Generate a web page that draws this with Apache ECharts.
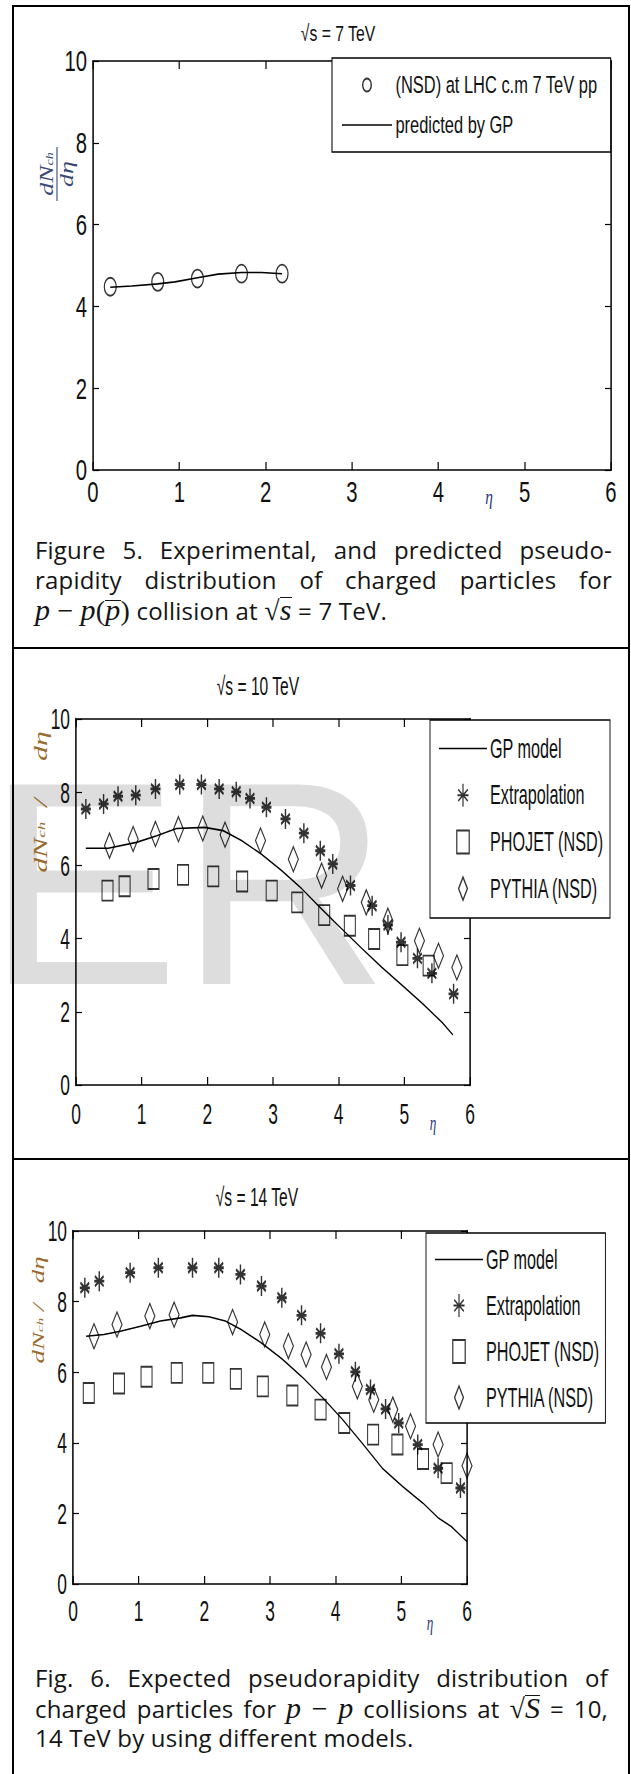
<!DOCTYPE html>
<html>
<head>
<meta charset="utf-8">
<script src="https://cdn.jsdelivr.net/npm/echarts@6/dist/echarts.min.js"></script>
<style>
html,body{margin:0;padding:0;background:#fff;}
#wrap{position:relative;width:631px;height:1774px;overflow:hidden;background:#fff;}
.panel{position:absolute;left:0;transform-origin:0 0;}
.fr{position:absolute;background:#000;}
.wm{position:absolute;font-family:'Liberation Sans',Arial,sans-serif;font-size:290px;line-height:290px;color:#dddddd;white-space:nowrap;}
.cap{position:absolute;font-family:'Open Sans',sans-serif;font-size:24px;line-height:30px;color:#151515;letter-spacing:0.2px;}
.cap div{height:30px;line-height:30px;white-space:nowrap;}
.cap .j{text-align:justify;text-align-last:justify;}
.m{font-family:'Liberation Serif','Times New Roman',serif;font-style:italic;font-size:30px;line-height:30px;}
.mr{font-family:'Liberation Serif','Times New Roman',serif;font-size:28px;line-height:30px;}
.ovp{display:inline-block;border-top:1.5px solid #151515;line-height:18px;}
.ovs{display:inline-block;border-top:1.5px solid #151515;line-height:24px;}
</style>
</head>
<body>
<div id="wrap">
  <div class="wm" style="left:-14px;top:738px;">ER</div>
  <div id="p1" class="panel"></div>
  <div id="p2" class="panel"></div>
  <div id="p3" class="panel"></div>

  <div class="fr" style="left:12px;top:5px;width:618px;height:2px;"></div>
  <div class="fr" style="left:12px;top:5px;width:2px;height:1769px;"></div>
  <div class="fr" style="left:628px;top:5px;width:2px;height:1769px;"></div>
  <div class="fr" style="left:12px;top:647px;width:618px;height:2px;"></div>
  <div class="fr" style="left:12px;top:1158px;width:618px;height:2px;"></div>

  <div class="cap" style="left:35px;top:535px;width:577px;">
    <div class="j">Figure 5. Experimental, and predicted pseudo-</div>
    <div class="j">rapidity distribution of charged particles for</div>
    <div><span class="m">p</span><span class="mr"> − </span><span class="m">p</span><span class="mr">(</span><span class="m ovp">p</span><span class="mr">)</span> collision at <span class="mr">√</span><span class="m ovs">s</span> = 7 TeV.</div>
  </div>

  <div class="cap" style="left:35px;top:1663px;width:573px;">
    <div class="j">Fig. 6. Expected pseudorapidity distribution of</div>
    <div class="j">charged particles for <span class="m">p</span><span class="mr"> − </span><span class="m">p</span> collisions at <span class="mr">√</span><span class="m ovs">S</span> = 10,</div>
    <div>14 TeV by using different models.</div>
  </div>
</div>

<script>
// ---------- data ----------
// Panel 1 : sqrt(s) = 7 TeV
const nsd7X = [0.20, 0.75, 1.21, 1.72, 2.19];
const nsd7Y = [4.48, 4.60, 4.68, 4.80, 4.80];
const gp7X  = [0.20, 0.45, 0.75, 0.95, 1.21, 1.45, 1.72, 1.95, 2.19];
const gp7Y  = [4.47, 4.50, 4.55, 4.60, 4.70, 4.79, 4.83, 4.83, 4.80];

// Panel 2 : sqrt(s) = 10 TeV
const ext10X = [0.15, 0.42, 0.64, 0.91, 1.21, 1.58, 1.91, 2.18, 2.44, 2.65, 2.90, 3.19, 3.47, 3.72, 3.91, 4.18, 4.51, 4.75, 4.95, 5.20, 5.42, 5.75];
const ext10Y = [7.54, 7.68, 7.89, 7.92, 8.09, 8.21, 8.21, 8.09, 8.01, 7.83, 7.59, 7.27, 6.88, 6.40, 6.04, 5.45, 4.90, 4.37, 3.90, 3.46, 3.05, 2.49];
const pyt10X = [0.51, 0.87, 1.21, 1.56, 1.93, 2.27, 2.81, 3.31, 3.74, 4.06, 4.42, 4.75, 5.23, 5.52, 5.80];
const pyt10Y = [6.54, 6.72, 6.86, 6.99, 7.01, 6.84, 6.68, 6.17, 5.72, 5.36, 4.99, 4.49, 3.94, 3.53, 3.21];
const pho10X = [0.48, 0.74, 1.18, 1.63, 2.09, 2.53, 2.98, 3.37, 3.78, 4.17, 4.54, 4.97, 5.37];
const pho10Y = [5.31, 5.43, 5.63, 5.74, 5.70, 5.56, 5.31, 4.99, 4.64, 4.35, 3.99, 3.55, 3.26];
const gp10X  = [0.15, 0.49, 0.92, 1.23, 1.53, 1.96, 2.24, 2.52, 2.82, 3.13, 3.44, 3.74, 4.05, 4.36, 4.66, 4.97, 5.28, 5.58, 5.74];
const gp10Y  = [6.47, 6.47, 6.63, 6.81, 7.01, 7.04, 6.95, 6.68, 6.31, 5.86, 5.36, 4.81, 4.26, 3.72, 3.21, 2.72, 2.22, 1.70, 1.37];

// Panel 3 : sqrt(s) = 14 TeV
const ext14X = [0.18, 0.40, 0.87, 1.30, 1.82, 2.22, 2.55, 2.87, 3.18, 3.48, 3.77, 4.05, 4.30, 4.53, 4.76, 4.96, 5.25, 5.56, 5.90];
const ext14Y = [8.39, 8.58, 8.82, 8.96, 8.96, 8.96, 8.77, 8.44, 8.11, 7.61, 7.10, 6.52, 6.01, 5.51, 4.96, 4.56, 3.95, 3.28, 2.72];
const pyt14X = [0.32, 0.67, 1.17, 1.54, 2.43, 2.92, 3.28, 3.55, 3.86, 4.33, 4.58, 4.87, 5.14, 5.56, 6.00];
const pyt14Y = [7.02, 7.35, 7.59, 7.63, 7.42, 7.07, 6.74, 6.50, 6.15, 5.60, 5.22, 4.94, 4.47, 3.95, 3.35];
const pho14X = [0.24, 0.70, 1.12, 1.58, 2.06, 2.48, 2.89, 3.34, 3.77, 4.13, 4.57, 4.94, 5.33, 5.69];
const pho14Y = [5.41, 5.68, 5.87, 5.98, 5.98, 5.81, 5.60, 5.34, 4.94, 4.56, 4.23, 3.95, 3.54, 3.14];
const gp14X  = [0.20, 0.47, 0.72, 1.03, 1.33, 1.64, 1.82, 2.07, 2.32, 2.56, 2.87, 3.18, 3.48, 3.79, 4.10, 4.40, 4.71, 5.02, 5.33, 5.57, 5.76, 6.00];
const gp14Y  = [7.02, 7.07, 7.16, 7.30, 7.45, 7.54, 7.61, 7.57, 7.45, 7.21, 6.83, 6.38, 5.88, 5.30, 4.67, 4.00, 3.28, 2.76, 2.29, 1.86, 1.63, 1.20];

// axis ranges
const X_MIN = 0, X_MAX = 6, X_STEP = 1;
const Y_MIN = 0, Y_MAX = 10, Y_STEP = 2;

// labels
const titles = ['√s = 7 TeV', '√s = 10 TeV', '√s = 14 TeV'];
const legend1 = ['(NSD) at LHC c.m 7 TeV pp', 'predicted by GP'];
const legend2 = ['GP model', 'Extrapolation', 'PHOJET (NSD)', 'PYTHIA (NSD)'];

// ---------- helpers ----------
const zip = (xs, ys) => xs.map((x, i) => [x, ys[i]]);
const SANS = "'Liberation Sans',Arial,sans-serif";
const SERIF = "'Liberation Serif','Times New Roman',serif";
const INK = '#111';
const YLAB = '#9a6b2e';
const YLAB1 = '#3a4a78';
const ETA = '#2a3580';

const SYM_ELLIPSE = 'path://M0,9A8.5,9,0,1,1,17,9A8.5,9,0,1,1,0,9Z';
const SYM_STAR = 'path://M8,0L8,20M1,5L15,15M1,15L15,5M0,10L16,10';
const SYM_RECT = 'path://M0,0L18,0L18,20L0,20Z';
const SYM_DIAM = 'path://M8,0L16,12.5L8,25L0,12.5Z';
const linePath = w => 'path://M0,0L' + w + ',0L' + w + ',1.6L0,1.6Z';

function txt(x, y, text, extra, rot) {
  return { type: 'text', x: x, y: y, rotation: rot || 0, silent: true,
    style: Object.assign({ text: text, fill: INK, align: 'center', verticalAlign: 'middle',
      textAlign: 'center', textVerticalAlign: 'middle' }, extra) };
}

function axes(k, xMargin) {
  const xLine = { show: true, onZero: false, lineStyle: { color: '#000', width: 1.5 } };
  const yLine = { show: true, onZero: false, lineStyle: { color: '#000', width: 1.5 / k } };
  const xTick = { show: true, inside: true, length: 8, lineStyle: { color: '#000', width: 1.2 / k } };
  const yTick = { show: true, inside: true, length: 6 / k, lineStyle: { color: '#000', width: 1.2 } };
  const lab = { show: true, color: INK, fontFamily: SANS, fontSize: 29, showMinLabel: true, showMaxLabel: true, hideOverlap: false };
  return {
    xAxis: [
      { type: 'value', position: 'bottom', min: X_MIN, max: X_MAX, interval: X_STEP, axisLine: xLine, axisTick: xTick,
        splitLine: { show: false }, axisLabel: Object.assign({ margin: xMargin }, lab) },
      { type: 'value', position: 'top', min: X_MIN, max: X_MAX, interval: X_STEP, axisLine: xLine, axisTick: xTick,
        splitLine: { show: false }, axisLabel: { show: false } }
    ],
    yAxis: [
      { type: 'value', position: 'left', min: Y_MIN, max: Y_MAX, interval: Y_STEP, axisLine: yLine, axisTick: yTick,
        splitLine: { show: false }, axisLabel: Object.assign({ margin: 6 / k }, lab) },
      { type: 'value', position: 'right', min: Y_MIN, max: Y_MAX, interval: Y_STEP, axisLine: yLine, axisTick: yTick,
        splitLine: { show: false }, axisLabel: { show: false } }
    ]
  };
}

const hollow = { color: 'rgba(0,0,0,0)', borderColor: '#000', borderWidth: 1.8 };
const starStyle = { color: 'rgba(0,0,0,0)', borderColor: '#000', borderWidth: 2.6 };
const common = { animation: false, silent: true, emphasis: { disabled: true }, xAxisIndex: 0, yAxisIndex: 0 };

function makePanel(id, k, top, height, cfg) {
  const W = 631 / k;
  const dom = document.getElementById(id);
  dom.style.top = top + 'px';
  dom.style.width = W + 'px';
  dom.style.height = height + 'px';
  dom.style.transform = 'scaleX(' + k + ')';
  const chart = echarts.init(dom, null, { renderer: 'svg', width: W, height: height });
  const ax = axes(k, cfg.xMargin);
  chart.setOption({
    animation: false,
    backgroundColor: 'transparent',
    tooltip: { show: false },
    grid: { left: cfg.grid[0] / k, top: cfg.grid[1] - top, width: cfg.grid[2] / k, height: cfg.grid[3],
      containLabel: false, outerBoundsMode: 'none' },
    xAxis: ax.xAxis,
    yAxis: ax.yAxis,
    legend: Object.assign({
      orient: 'vertical', selectedMode: false, backgroundColor: '#fff',
      borderColor: '#000', borderWidth: 1.5, borderRadius: 0, align: 'left',
      left: cfg.legendLeft / k, top: cfg.legendTop - top
    }, cfg.legend),
    series: cfg.series.map(s => Object.assign({}, common, s)),
    graphic: { elements: cfg.graphics.map(g => Object.assign(g, { x: g.x / k, y: g.y - top })) }
  });
}

// ---------- panel 1 ----------
const K1 = 0.7;
makePanel('p1', K1, 0, 520, {
  grid: [93, 61, 518, 409],
  xMargin: 7,
  legendLeft: 332, legendTop: 58,
  legend: {
    data: [ { name: legend1[0] },
            { name: legend1[1], icon: linePath(71.4), itemStyle: { color: '#000', borderWidth: 0 } } ],
    padding: [15, 8 / K1, 15, 10 / K1], itemWidth: 71.4, itemHeight: 13, itemGap: 16,
    textStyle: { color: INK, fontFamily: SANS, fontSize: 23.5, lineHeight: 24, width: 296, overflow: 'none' }
  },
  series: [
    { type: 'scatter', name: legend1[0], data: zip(nsd7X, nsd7Y), symbol: SYM_ELLIPSE, symbolSize: [17, 18], itemStyle: hollow, z: 3 },
    { type: 'line', name: legend1[1], data: zip(gp7X, gp7Y), symbol: 'none', lineStyle: { color: '#000', width: 1.6 }, itemStyle: { color: '#000' }, z: 2 }
  ],
  graphics: [
    txt(338, 33, titles[0], { fontFamily: SANS, fontSize: 22.5 }),
    txt(489, 496, 'η', { fontFamily: SERIF, fontStyle: 'italic', fontSize: 22, fill: ETA }),
    txt(57, 174, '{n|dN}{s|ch}\n{bar| }\n{n|dη}', {
      fill: YLAB1,
      rich: {
        n: { fontFamily: SERIF, fontStyle: 'italic', fontSize: 26, fill: YLAB1, lineHeight: 22 },
        s: { fontFamily: SERIF, fontStyle: 'italic', fontSize: 14, fill: YLAB1, verticalAlign: 'bottom', lineHeight: 22 },
        bar: { width: 54, height: 1.6, backgroundColor: YLAB1, lineHeight: 6, fontSize: 2 }
      }
    }, Math.PI / 2)
  ]
});

// ---------- panels 2 & 3 ----------
function fig6Series(gpX, gpY, exX, exY, phX, phY, pyX, pyY) {
  return [
    { type: 'line', name: legend2[0], data: zip(gpX, gpY), symbol: 'none', lineStyle: { color: '#000', width: 1.6 }, itemStyle: { color: '#000' }, z: 2 },
    { type: 'scatter', name: legend2[1], data: zip(exX, exY), symbol: SYM_STAR, symbolSize: [16.7, 20], itemStyle: starStyle, z: 3 },
    { type: 'scatter', name: legend2[2], data: zip(phX, phY), symbol: SYM_RECT, symbolSize: [18.3, 20], itemStyle: hollow, z: 3 },
    { type: 'scatter', name: legend2[3], data: zip(pyX, pyY), symbol: SYM_DIAM, symbolSize: [16.7, 25], itemStyle: hollow, z: 3 }
  ];
}
function fig6Legend(k, pad, gap, tw) {
  return {
    data: [ { name: legend2[0], icon: linePath(80), itemStyle: { color: '#000', borderWidth: 0 } },
            { name: legend2[1] }, { name: legend2[2] }, { name: legend2[3] } ],
    padding: [pad[0], 6 / k, pad[1], 9 / k], itemWidth: 80, itemHeight: 23, itemGap: gap,
    textStyle: { color: INK, fontFamily: SANS, fontSize: 27, lineHeight: 24, width: tw, overflow: 'none' }
  };
}
const ylab2 = (x, y, fs, gapText) => txt(x, y, '{n|dN}{s|ch}{n|' + gapText + '}', {
  fill: YLAB,
  rich: {
    n: { fontFamily: SERIF, fontStyle: 'italic', fontSize: fs, fill: YLAB, lineHeight: 20 },
    s: { fontFamily: SERIF, fontStyle: 'italic', fontSize: Math.round(fs * 0.55), fill: YLAB, verticalAlign: 'bottom', lineHeight: 20 }
  }
}, Math.PI / 2);

const K2 = 0.6;
makePanel('p2', K2, 650, 508, {
  grid: [76, 719, 394, 366],
  xMargin: 14,
  legendLeft: 430, legendTop: 720,
  legend: fig6Legend(K2, [15, 16], 19.7, 190),
  series: fig6Series(gp10X, gp10Y, ext10X, ext10Y, pho10X, pho10Y, pyt10X, pyt10Y),
  graphics: [
    txt(258, 687, titles[1], { fontFamily: SANS, fontSize: 26 }),
    txt(433, 1123, 'η', { fontFamily: SERIF, fontStyle: 'italic', fontSize: 22, fill: ETA }),
    ylab2(41, 802, 30, '  /     dη')
  ]
});

const K3 = 0.6;
makePanel('p3', K3, 1160, 500, {
  grid: [73, 1231, 394, 353],
  xMargin: 12,
  legendLeft: 426, legendTop: 1233,
  legend: fig6Legend(K3, [13, 12], 19, 186),
  series: fig6Series(gp14X, gp14Y, ext14X, ext14Y, pho14X, pho14Y, pyt14X, pyt14Y),
  graphics: [
    txt(257, 1198, titles[2], { fontFamily: SANS, fontSize: 26 }),
    txt(430, 1623, 'η', { fontFamily: SERIF, fontStyle: 'italic', fontSize: 22, fill: ETA }),
    ylab2(39, 1310, 27, ' /   dη')
  ]
});
</script>
</body>
</html>
